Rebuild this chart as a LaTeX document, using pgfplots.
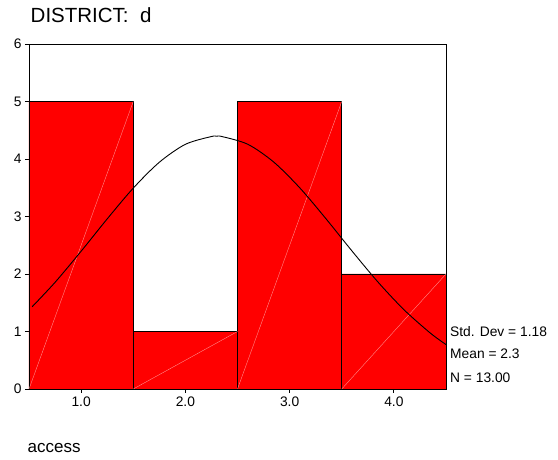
\documentclass[border=0pt]{standalone}
\usepackage{pgfplots}
\pgfplotsset{compat=1.18}
\usepackage{fontspec}
\setmainfont{Liberation Sans}
\begin{document}
\begin{tikzpicture}
\path[use as bounding box] (0pt,0pt) rectangle (558pt,460pt);
\begin{axis}[
  at={(29pt,71pt)}, anchor=south west,
  scale only axis, width=417pt, height=345pt,
  xmin=0.5, xmax=4.5, ymin=0, ymax=6,
  xtick={1,2,3,4}, xticklabels={1.0,2.0,3.0,4.0},
  ytick={0,1,2,3,4,5,6},
  tick pos=left, tick align=outside, major tick length=4pt,
  tick style={black, line width=0.8pt},
  axis line style={black, line width=0.9pt},
  ticklabel style={font=\fontsize{13.8}{16}\selectfont},
  /pgf/number format/assume math mode=true,
  clip=true,
]
\addplot[ybar interval, fill={rgb,255:red,255;green,0;blue,0}, draw=black, line width=0.8pt]
  coordinates {(0.5,5) (1.5,1) (2.5,5) (3.5,2) (4.5,2)};
\addplot[color={rgb,255:red,255;green,150;blue,150}, line width=0.35pt] coordinates {(0.5,0) (1.5,5)};
\addplot[color={rgb,255:red,255;green,150;blue,150}, line width=0.35pt] coordinates {(1.5,0) (2.5,1)};
\addplot[color={rgb,255:red,255;green,150;blue,150}, line width=0.35pt] coordinates {(2.5,0) (3.5,5)};
\addplot[color={rgb,255:red,255;green,150;blue,150}, line width=0.35pt] coordinates {(3.5,0) (4.5,2)};
\addplot[black, line width=0.9pt, smooth] coordinates {
 (0.53,1.43) (0.75,1.855) (1.0,2.396) (1.25,2.958) (1.5,3.493) (1.75,3.943)
 (2.0,4.255) (2.25,4.391) (2.3,4.395) (2.35,4.391) (2.6,4.255) (2.85,3.943)
 (3.1,3.493) (3.35,2.958) (3.6,2.396) (3.85,1.855) (4.1,1.373) (4.35,0.972) (4.5,0.773)};
\end{axis}
\node[anchor=base west, inner sep=0pt, font=\fontsize{20.5}{24}\selectfont] at (30.5pt,437pt) {DISTRICT:\ \ d};
\node[anchor=base west, inner sep=0pt, font=\fontsize{17}{20}\selectfont] at (27.5pt,7pt) {access};
\node[anchor=base west, inner sep=0pt, font=\fontsize{13.8}{16}\selectfont] at (450pt,123pt) {Std. Dev = 1.18};
\node[anchor=base west, inner sep=0pt, font=\fontsize{13.8}{16}\selectfont] at (450pt,101pt) {Mean = 2.3};
\node[anchor=base west, inner sep=0pt, font=\fontsize{13.8}{16}\selectfont] at (450pt,77pt) {N = 13.00};
\end{tikzpicture}
\end{document}
